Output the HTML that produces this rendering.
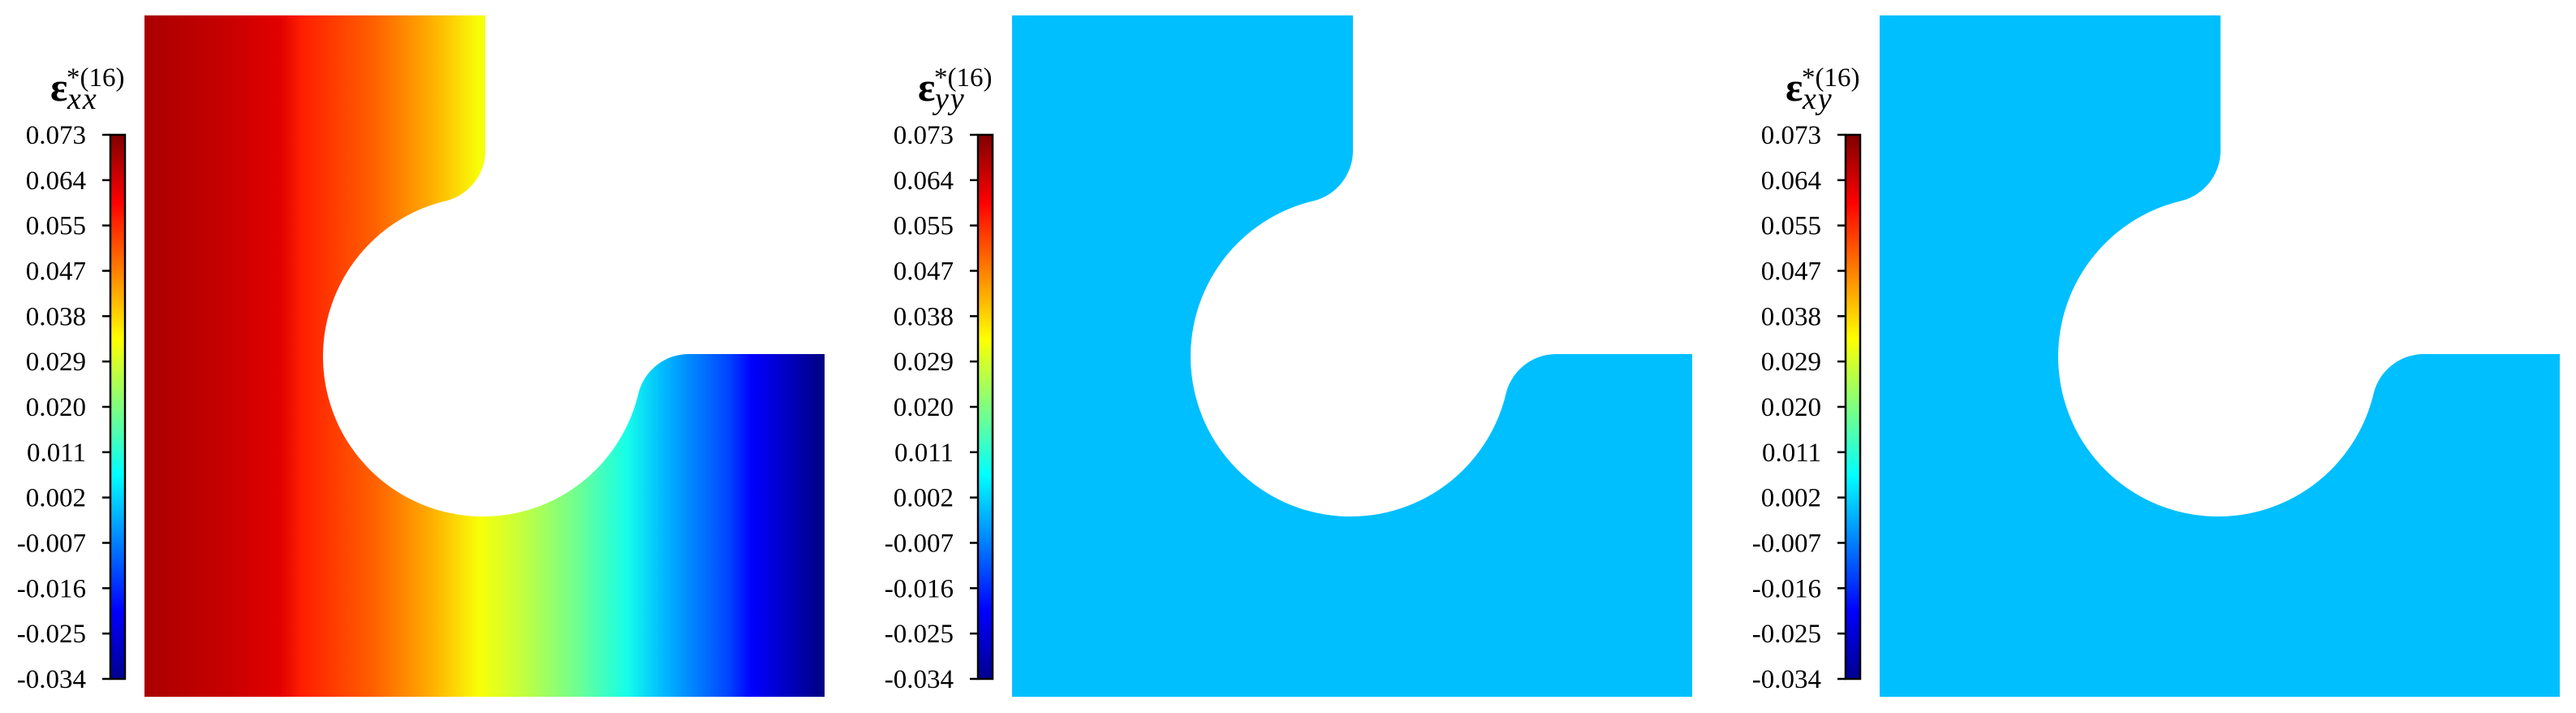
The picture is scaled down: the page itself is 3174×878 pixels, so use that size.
<!DOCTYPE html>
<html><head><meta charset="utf-8">
<style>
html,body{margin:0;padding:0;background:#fff;}
svg{display:block;}
text{font-family:"Liberation Serif",serif;fill:#000;}
</style></head>
<body>
<svg id="fig" width="3174" height="878" viewBox="0 0 3174 878" xmlns="http://www.w3.org/2000/svg">
<defs>
<linearGradient id="jetV" x1="0" y1="1" x2="0" y2="0">
<stop offset="0" stop-color="#00008f"/><stop offset="0.125" stop-color="#0000ff"/>
<stop offset="0.375" stop-color="#00ffff"/><stop offset="0.625" stop-color="#ffff00"/>
<stop offset="0.875" stop-color="#ff0000"/><stop offset="1" stop-color="#800000"/>
</linearGradient>
<linearGradient id="fieldXX" x1="0" y1="0" x2="1" y2="0"></linearGradient>
</defs>
</svg>
<script>
// Colorbar data
const tickLabels = ["0.073","0.064","0.055","0.047","0.038","0.029","0.020","0.011","0.002","-0.007","-0.016","-0.025","-0.034"];
const vMin = -0.034, vMax = 0.073;
// eps_xx field sampled across normalized x position (0 = left edge, 1 = right edge)
const fieldX = [0, 0.12, 0.199, 0.232, 0.337, 0.416, 0.493, 0.559, 0.643, 0.709, 0.761, 0.859, 0.893, 1];
const fieldXX = [0.0685, 0.0655, 0.0627, 0.0564, 0.0496, 0.042, 0.0321, 0.0262, 0.0168, 0.0083, -0.0009, -0.0135, -0.0206, -0.034];
// eps_yy and eps_xy are uniform
const fieldYY = -0.0006;
const fieldXY = -0.0006;

const NS = "http://www.w3.org/2000/svg";
const svg = document.getElementById("fig");
function mk(tag, attrs, parent){const e=document.createElementNS(NS,tag);for(const k in attrs)e.setAttribute(k,attrs[k]);(parent||svg).appendChild(e);return e;}
function clip(v){return Math.max(0,Math.min(1,v));}
function jet(t){
  const r=clip(1.5-Math.abs(4*t-3)), g=clip(1.5-Math.abs(4*t-2)), b=clip(1.5-Math.abs(4*t-1));
  const h=v=>Math.round(v*255).toString(16).padStart(2,"0");
  return "#"+h(r)+h(g)+h(b);
}
function tOf(v){return (v-vMin)/(vMax-vMin);}

const grad = document.getElementById("fieldXX");
fieldX.forEach((x,i)=>{mk("stop",{offset:x,"stop-color":jet(tOf(fieldXX[i]))},grad);});

const panels = [
  {dx:0, sub:"xx", fill:"url(#fieldXX)", name:"exx"},
  {dx:1069, sub:"yy", fill:jet(tOf(fieldYY)), name:"eyy"},
  {dx:2138, sub:"xy", fill:jet(tOf(fieldXY)), name:"exy"}
];
const cbTop=166, cbBot=836, cbW=18;
panels.forEach(p=>{
  const g = mk("g",{transform:`translate(${p.dx},0)`});
  
  
  const L=178,T=19,R=1016,B=858,cx=598,cy=436,Rh=197,rf=64;
  const ax=cx, ay=183;
  const p1x=551, p1y=247;
  const p2x=cx+(cy-p1y), p2y=cy+(cx-p1x);
  const bx=cx+(cy-ay), by=cy;
  const d=`M${L},${T} L${ax},${T} L${ax},${ay} A${rf},${rf} 0 0 1 ${p1x},${p1y} A${Rh},${Rh} 0 1 0 ${p2x},${p2y} A${rf},${rf} 0 0 1 ${bx},${by} L${R},${by} L${R},${B} L${L},${B} Z`;
  const sh = mk("path",{d:d,fill:p.fill},g);
  
  
  const cbx=136;
  const cb = mk("rect",{x:cbx,y:cbTop,width:cbW,height:cbBot-cbTop,fill:"url(#jetV)",stroke:"#000","stroke-width":2.5},g);
  
  
  tickLabels.forEach((lab,i)=>{
    const y = cbTop + i*(cbBot-cbTop)/(tickLabels.length-1);
    const tk = mk("line",{x1:cbx-10,x2:cbx,y1:y,y2:y,stroke:"#000","stroke-width":2.5},g);
    
    
    const t = mk("text",{x:106,y:y+11,"text-anchor":"end","font-size":33},g);
    t.textContent = lab;
    
    
  });
  const tt = mk("text",{x:62,y:124,"font-size":50},g);
  
  
  const e1 = mk("tspan",{"font-weight":"bold"},tt); e1.textContent="ε";
  const e2 = mk("tspan",{"font-style":"italic","font-size":38,x:83,y:134,"letter-spacing":2},tt); e2.textContent=p.sub;
  const e3 = mk("tspan",{"font-size":33,x:82,y:106},tt); e3.textContent="*(16)";
});
</script>
</body></html>
